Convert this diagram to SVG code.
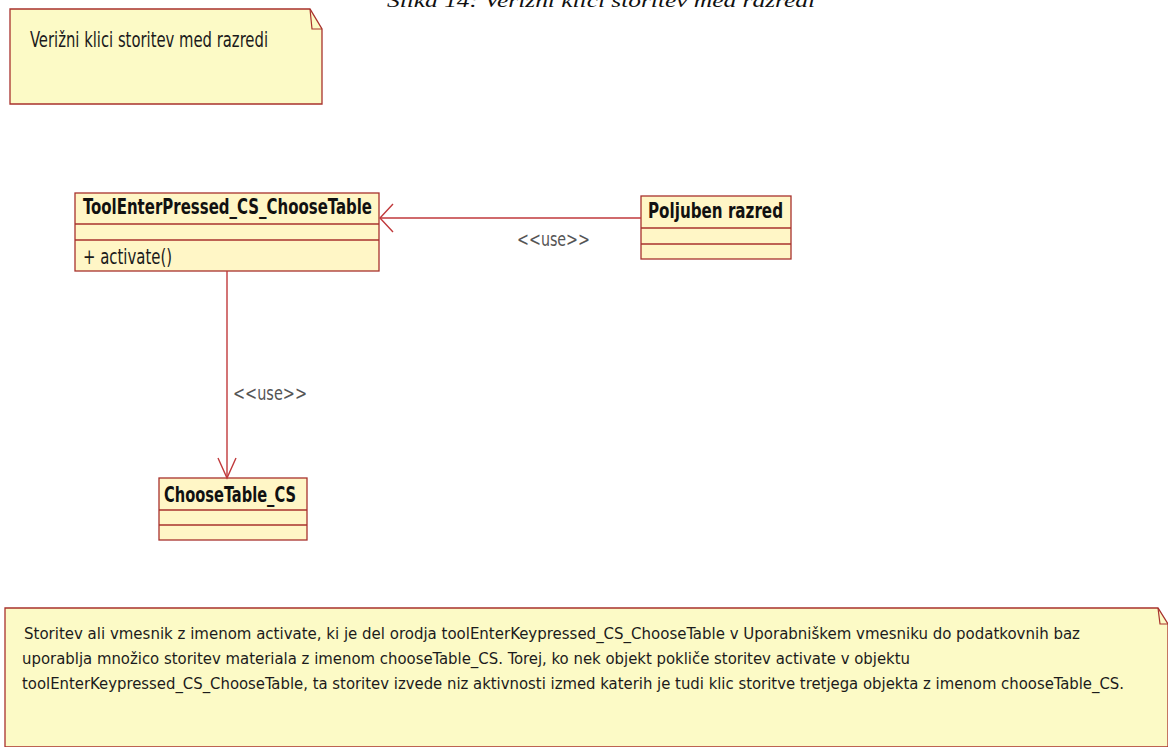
<svg xmlns="http://www.w3.org/2000/svg" width="1168" height="747" viewBox="0 0 1168 747">
<defs>
<style>
.note{fill:#fcfac6;stroke:#a8322d;stroke-width:1.3}
.fold{fill:none;stroke:#a8322d;stroke-width:1.2}
.cls{fill:#fff6c6;stroke:#a8322d;stroke-width:1.3}
.div{stroke:#a8322d;stroke-width:1.3}
.t{font-family:"DejaVu Sans Condensed","DejaVu Sans",sans-serif;font-stretch:condensed;font-size:21px;fill:#1b1b1b}
.n{font-size:16.5px}
.b{font-weight:bold;fill:#111}
.lbl{font-family:"DejaVu Sans Condensed","DejaVu Sans",sans-serif;font-stretch:condensed;font-size:19px;fill:#555}
.cap{font-family:"Liberation Serif",serif;font-style:italic;font-size:19px;fill:#111}
.edge{fill:none;stroke:#c0393b;stroke-width:1.4}
</style>
</defs>
<rect width="1168" height="747" fill="#ffffff"/>
<text class="cap" x="387" y="7" textLength="428" lengthAdjust="spacingAndGlyphs">Slika 14: Verižni klici storitev med razredi</text>

<g id="note-title">
<path class="note" d="M10,9 H310 L322,29 V104 H10 Z"/>
<path class="fold" d="M310,9 L312,29 H322"/>
<text class="t" x="30" y="47" textLength="238" lengthAdjust="spacingAndGlyphs">Verižni klici storitev med razredi</text>
</g>

<g id="class-tool">
<rect class="cls" x="75" y="193" width="304" height="78"/>
<line class="div" x1="75" y1="224" x2="379" y2="224"/>
<line class="div" x1="75" y1="240" x2="379" y2="240"/>
<text class="t b" x="83" y="214" textLength="289" lengthAdjust="spacingAndGlyphs">ToolEnterPressed_CS_ChooseTable</text>
<text class="t" x="83" y="264" textLength="89" lengthAdjust="spacingAndGlyphs">+ activate()</text>
</g>

<g id="class-poljuben">
<rect class="cls" x="641" y="196" width="150" height="63"/>
<line class="div" x1="641" y1="228" x2="791" y2="228"/>
<line class="div" x1="641" y1="244" x2="791" y2="244"/>
<text class="t b" x="648" y="218" textLength="135" lengthAdjust="spacingAndGlyphs">Poljuben razred</text>
</g>

<g id="class-choose">
<rect class="cls" x="159" y="478" width="148" height="62"/>
<line class="div" x1="159" y1="510" x2="307" y2="510"/>
<line class="div" x1="159" y1="525" x2="307" y2="525"/>
<text class="t b" x="164" y="502" textLength="132" lengthAdjust="spacingAndGlyphs">ChooseTable_CS</text>
</g>

<g id="connectors">
<line class="edge" x1="641" y1="218" x2="380" y2="218"/>
<polyline class="edge" points="393,204 380,218 393,232"/>
<text class="lbl" x="517" y="246" textLength="73" lengthAdjust="spacingAndGlyphs">&lt;&lt;use&gt;&gt;</text>
<line class="edge" x1="227" y1="271" x2="227" y2="478"/>
<polyline class="edge" points="218,458 227,478 236,458"/>
<text class="lbl" x="233" y="400" textLength="74" lengthAdjust="spacingAndGlyphs">&lt;&lt;use&gt;&gt;</text>
</g>

<g id="note-description">
<path class="note" d="M5,608 H1158 L1168,624 V747 H5 Z"/>
<path class="fold" d="M1158,608 L1160,624 H1168"/>
<text class="t n" x="24" y="639" textLength="1056" lengthAdjust="spacingAndGlyphs">Storitev ali vmesnik z imenom activate, ki je del orodja toolEnterKeypressed_CS_ChooseTable v Uporabniškem vmesniku do podatkovnih baz</text>
<text class="t n" x="22" y="664" textLength="888" lengthAdjust="spacingAndGlyphs">uporablja množico storitev materiala z imenom chooseTable_CS. Torej, ko nek objekt pokliče storitev activate v objektu</text>
<text class="t n" x="22" y="689" textLength="1102" lengthAdjust="spacingAndGlyphs">toolEnterKeypressed_CS_ChooseTable, ta storitev izvede niz aktivnosti izmed katerih je tudi klic storitve tretjega objekta z imenom chooseTable_CS.</text>
</g>
</svg>
